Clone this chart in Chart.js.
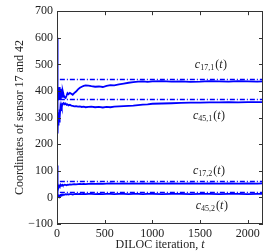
<!DOCTYPE html>
<html>
<head>
<meta charset="utf-8">
<script src="https://cdn.jsdelivr.net/npm/chart.js@4/dist/chart.umd.min.js"></script>
<style>
  html, body { margin: 0; padding: 0; background: #fff; }
  #wrap { width: 277px; height: 252px; }
</style>
</head>
<body>
<div id="wrap"><canvas id="myChart" width="277" height="252"></canvas></div>
<script>
// iteration numbers where the curves are sampled
const ts = [0,3,6,9,12,15,18,22,26,30,35,40,45,50,55,60,70,80,90,100,110,120,135,150,165,180,200,220,240,260,280,300,330,360,400,440,480,520,560,600,650,700,750,800,850,900,950,1000,1100,1200,1300,1400,1500,1600,1700,1800,1900,2000,2100,2160]

// estimated coordinates
const c171 = [395,410,368,412,375,405,365,415,380,400,370,408,385,395,378,400,385,376,374,382,392,388,393,390,386,392,398,406,412,416,419,421,420,418,416,417,415,419,422,421,425,428,431,433,435,436,434,436,437,435,436,434,435,437,436,435,437,436,435,436]
const c451 = [600,250,300,240,320,270,310,285,330,300,335,325,345,338,350,352,355,350,353,348,350,346,348,345,344,342,343,341,342,340,341,339,340,341,339,340,338,340,339,341,342,343,344,345,347,349,350,352,353,354,355,356,356,357,357,358,357,358,358,358]
const c172 = [30,42,38,44,40,43,39,45,42,44,43,46,44,45,47,45,46,48,47,46,48,47,49,48,49,50,49,50,51,50,51,50,51,52,51,52,51,52,53,52,52,53,52,53,52,53,52,53,52,53,52,53,52,53,52,53,52,53,52,53]
const c452 = [120,2,5,3,6,4,7,5,8,6,9,8,10,9,11,10,11,10,12,11,12,11,12,12,11,12,13,12,13,12,13,12,13,13,12,13,12,13,13,12,13,13,12,13,13,12,13,13,12,13,13,12,13,13,12,13,13,12,13,13]

// true coordinates (dash-dot lines)
const targetT = [30, 2160]
const targets = [443, 368, 60, 19]

const xTicks = [0, 500, 1000, 1500, 2000]
const yTicks = [-100, 0, 100, 200, 300, 400, 500, 600, 700]

// curve labels: [first index, second index, t, value]
const curveLabels = [
  ["17", "1", 1445, 497],
  ["45", "1", 1425, 305],
  ["17", "2", 1425, 100],
  ["45", "2", 1455, -33]
]

const blue = "#0000ff"
const ink = "#222"
const serif = "'Liberation Serif', 'DejaVu Serif', serif"
Chart.defaults.font.family = serif
Chart.defaults.font.size = 12
Chart.defaults.color = ink

function toPoints(vals) {
  return ts.map((t, i) => ({x: t, y: vals[i]}))
}

function solid(vals) {
  return {data: toPoints(vals), borderColor: blue, borderWidth: 1.8, pointRadius: 0, tension: 0, fill: false}
}

function dashed(v) {
  return {data: targetT.map(t => ({x: t, y: v})), borderColor: blue, borderWidth: 1.4,
    borderDash: [5, 2, 1, 2], pointRadius: 0, fill: false}
}

const frame = {
  id: "frame",
  afterDraw(chart) {
    const ctx = chart.ctx
    const a = chart.chartArea
    const x = chart.scales.x
    const y = chart.scales.y
    ctx.save()
    ctx.strokeStyle = "#333"
    ctx.lineWidth = 1
    ctx.strokeRect(Math.round(a.left) + 0.5, Math.round(a.top) + 0.5, Math.round(a.width) - 1, Math.round(a.height) - 1)
    ctx.beginPath()
    xTicks.forEach(v => {
      const px = Math.round(x.getPixelForValue(v)) + 0.5
      ctx.moveTo(px, a.bottom); ctx.lineTo(px, a.bottom - 4)
      ctx.moveTo(px, a.top); ctx.lineTo(px, a.top + 4)
    })
    yTicks.forEach(v => {
      const py = Math.round(y.getPixelForValue(v)) + 0.5
      ctx.moveTo(a.left, py); ctx.lineTo(a.left + 4, py)
      ctx.moveTo(a.right, py); ctx.lineTo(a.right - 4, py)
    })
    ctx.stroke()

    ctx.fillStyle = ink
    ctx.textBaseline = "middle"

    // x axis title with italic t
    ctx.font = "12px " + serif
    const head = "DILOC iteration, "
    const w1 = ctx.measureText(head).width
    ctx.font = "italic 12px " + serif
    const w2 = ctx.measureText("t").width
    let tx = (a.left + a.right) / 2 - (w1 + w2) / 2
    ctx.font = "12px " + serif
    ctx.fillText(head, tx, 245)
    ctx.font = "italic 12px " + serif
    ctx.fillText("t", tx + w1, 245)

    // curve names c_{i,j}(t)
    curveLabels.forEach(l => {
      let px = x.getPixelForValue(l[2])
      const py = y.getPixelForValue(l[3])
      ctx.font = "italic 12px " + serif
      ctx.fillText("c", px, py)
      px += ctx.measureText("c").width
      ctx.font = "8px " + serif
      const sub = l[0] + "," + l[1]
      ctx.fillText(sub, px, py + 3)
      px += ctx.measureText(sub).width + 1
      ctx.font = "12px " + serif
      ctx.fillText("(", px, py)
      px += ctx.measureText("(").width
      ctx.font = "italic 12px " + serif
      ctx.fillText("t", px, py)
      px += ctx.measureText("t").width + 0.5
      ctx.font = "12px " + serif
      ctx.fillText(")", px, py)
    })
    ctx.restore()
  }
}

new Chart(document.getElementById("myChart").getContext("2d"), {
  type: "line",
  data: {
    datasets: [
      solid(c171), solid(c451), solid(c172), solid(c452),
      ...targets.map(v => dashed(v))
    ]
  },
  options: {
    responsive: false,
    animation: false,
    layout: {padding: {top: 8, right: 14, left: 0, bottom: 0}},
    plugins: {legend: {display: false}, tooltip: {enabled: false}},
    scales: {
      x: {
        type: "linear", min: 0, max: 2160,
        grid: {display: false, drawTicks: false},
        border: {display: false},
        afterBuildTicks: s => { s.ticks = xTicks.map(v => ({value: v})) },
        afterFit: s => { s.height = 28 },
        ticks: {padding: 3, maxRotation: 0, callback: v => "" + v}
      },
      y: {
        type: "linear", min: -100, max: 700,
        grid: {display: false, drawTicks: false},
        border: {display: false},
        afterBuildTicks: s => { s.ticks = yTicks.map(v => ({value: v})) },
        afterFit: s => { s.width = 57 },
        ticks: {padding: 4, callback: v => v < 0 ? "\u2212" + Math.abs(v) : "" + v},
        title: {display: true, text: "Coordinates of sensor 17 and 42", padding: {top: 13, bottom: 0}}
      }
    }
  },
  plugins: [frame]
})
</script>
</body>
</html>
